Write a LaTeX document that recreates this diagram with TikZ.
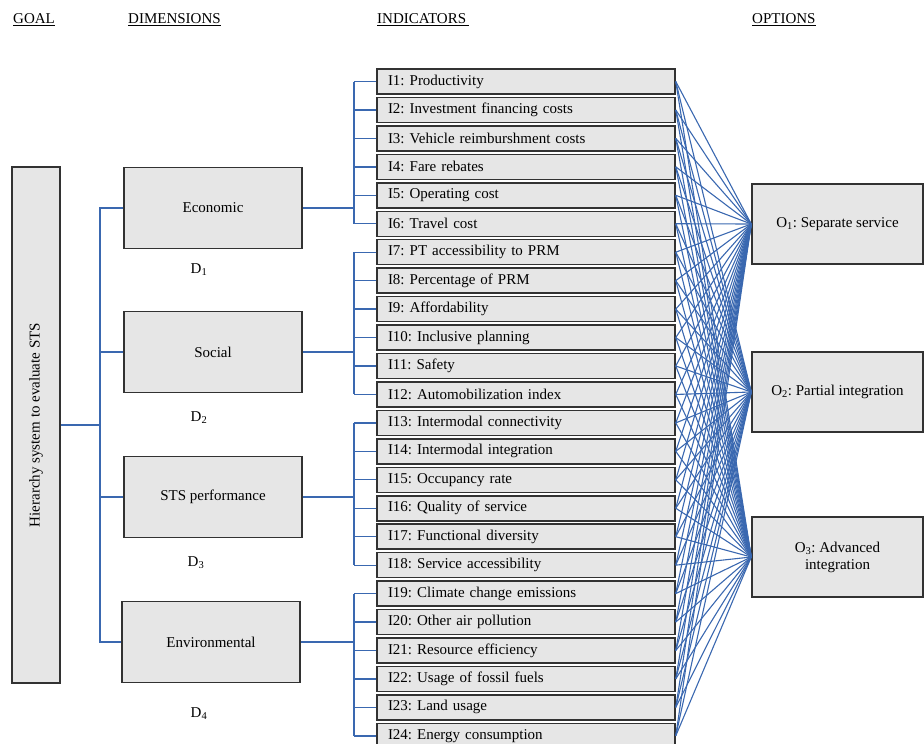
\documentclass[tikz,border=0pt]{standalone}
\usepackage{fontspec}
\setmainfont{Liberation Serif}
\frenchspacing
\definecolor{linkblue}{RGB}{58,104,176}
\definecolor{boxfill}{RGB}{230,230,230}
\definecolor{boxborder}{RGB}{50,50,50}
\begin{document}
\begin{tikzpicture}[x=1pt,y=-1pt,
  every node/.style={font=\fontsize{15pt}{17pt}\selectfont},
  box/.style={draw=boxborder, fill=boxfill, line width=1.5pt, inner sep=0pt},
  indbox/.style={box, minimum width=298pt, minimum height=25pt, text width=276pt, inner xsep=11pt, align=left},
  dimbox/.style={box, minimum width=178pt, minimum height=81pt, align=center},
  optbox/.style={box, minimum width=171pt, minimum height=80pt, align=center},
  head/.style={anchor=west, inner sep=0pt},
  link/.style={draw=linkblue, line width=1.3pt},
  fan/.style={draw=linkblue, line width=1.1pt}
]
\useasboundingbox (0,0) rectangle (924,744);

% headers
\node[head] (hgoal) at (13,20) {\underline{GOAL}};
\node[head] (hdim) at (128,20) {\underline{DIMENSIONS}};
\node[head] (hind) at (377,20) {\underline{INDICATORS\,}};
\node[head] (hopt) at (752,20) {\underline{OPTIONS}};

% goal
\node[box, minimum width=48pt, minimum height=516pt] (goal) at (36,425) {};
\node[rotate=90] (goaltext) at (goal.center) {Hierarchy system to evaluate STS};

% dimensions
\node[dimbox] (eco) at (213,208) {Economic};
\node[dimbox] (soc) at (213,352) {Social};
\node[dimbox] (sts) at (213,497) {STS performance};
\node[dimbox] (env) at (211,642) {Environmental};
\node (d1) at (199,270) {D\textsubscript{1}};
\node (d2) at (199,418) {D\textsubscript{2}};
\node (d3) at (196,563) {D\textsubscript{3}};
\node (d4) at (199,714) {D\textsubscript{4}};

% indicators
\foreach \n/\t [count=\k] in {
 1/{I1: Productivity},
 2/{I2: Investment financing costs},
 3/{I3: Vehicle reimburshment costs},
 4/{I4: Fare rebates},
 5/{I5: Operating cost},
 6/{I6: Travel cost},
 7/{I7: PT accessibility to PRM},
 8/{I8: Percentage of PRM},
 9/{I9: Affordability},
 10/{I10: Inclusive planning},
 11/{I11: Safety},
 12/{I12: Automobilization index},
 13/{I13: Intermodal connectivity},
 14/{I14: Intermodal integration},
 15/{I15: Occupancy rate},
 16/{I16: Quality of service},
 17/{I17: Functional diversity},
 18/{I18: Service accessibility},
 19/{I19: Climate change emissions},
 20/{I20: Other air pollution},
 21/{I21: Resource efficiency},
 22/{I22: Usage of fossil fuels},
 23/{I23: Land usage},
 24/{I24: Energy consumption}}
{
  \node[indbox] (i\n) at (526,{81.5+(\k-1)*28.45}) {\t};
}

% options
\node[optbox] (o1) at (837.5,224) {O\textsubscript{1}: Separate service};
\node[optbox] (o2) at (837.5,392) {O\textsubscript{2}: Partial integration};
\node[optbox] (o3) at (837.5,557) {O\textsubscript{3}: Advanced\\integration};

% goal to dimensions
\coordinate (tx) at (100,425);
\draw[link] (goal.east) -- (tx);
\draw[link] (eco.west) -- (eco.west -| tx) -- (env.west -| tx) -- (env.west);
\draw[link] (soc.west) -- (soc.west -| tx);
\draw[link] (sts.west) -- (sts.west -| tx);

% dimensions to indicators
\coordinate (bx) at (354,0);
\foreach \d/\a/\b in {eco/1/6, soc/7/12, sts/13/18, env/19/24}{
  \draw[link] (\d.east) -- (\d.east -| bx);
  \draw[link] (i\a.west -| bx) -- (i\b.west -| bx);
  \foreach \m in {\a,...,\b}{
    \draw[link] (i\m.west) -- (i\m.west -| bx);
  }
}

% indicators to options
\foreach \m in {1,...,24}{
  \foreach \o in {1,2,3}{
    \draw[fan] (i\m.east) -- (o\o.west);
  }
}
\end{tikzpicture}
\end{document}
